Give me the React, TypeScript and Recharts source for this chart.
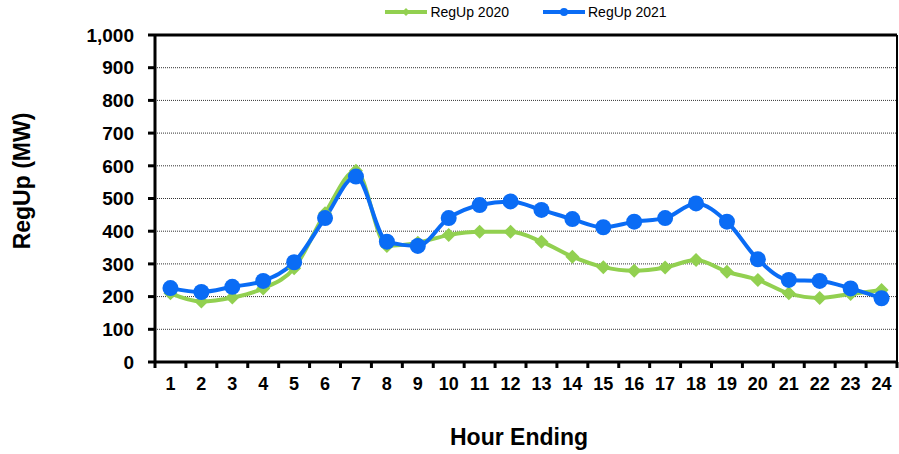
import React from "react";
import {
  LineChart,
  Line,
  XAxis,
  YAxis,
  CartesianGrid,
  ReferenceLine,
  Legend,
} from "recharts";

// hour ending 1..24
const hours = [1, 2, 3, 4, 5, 6, 7, 8, 9, 10, 11, 12, 13, 14, 15, 16, 17, 18, 19, 20, 21, 22, 23, 24];

const regUp2020 = [210, 185, 197, 225, 287, 455, 585, 355, 365, 388, 398, 398, 368, 322, 290, 279, 289, 312, 276, 251, 210, 196, 208, 220];
const regUp2021 = [226, 214, 230, 248, 305, 440, 567, 368, 355, 440, 480, 491, 465, 437, 412, 429, 440, 485, 429, 314, 251, 248, 225, 195];

const yTicks = [0, 100, 200, 300, 400, 500, 600, 700, 800, 900, 1000];

const GREEN = "#92D050";
const BLUE = "#0A6CF5";
const FONT = "'Liberation Sans', Arial, sans-serif";

const data = hours.map((h, i) => ({ hour: h, y2020: regUp2020[i], y2021: regUp2021[i] }));

// labels on whole hours, tick marks on the band edges
const xTicks = [0.5, ...hours.flatMap((h) => [h, h + 0.5])];

function XTick(props: any) {
  const { x, y, payload } = props;
  const v = payload.value;
  if (v % 1 !== 0) {
    return <line x1={x} x2={x} y1={y} y2={y + 6} stroke="#000" strokeWidth={3} />;
  }
  return (
    <text x={x} y={y + 28} textAnchor="middle" fontFamily={FONT} fontWeight="bold" fontSize={18} fill="#000">
      {v}
    </text>
  );
}

function Diamond(props: any) {
  const { cx, cy } = props;
  if (cx == null || cy == null) return null;
  const r = 7;
  return <path d={`M${cx},${cy - r}L${cx + r},${cy}L${cx},${cy + r}L${cx - r},${cy}Z`} fill={GREEN} />;
}

function LegendContent() {
  const items = [
    { name: "RegUp 2020", color: GREEN, shape: "diamond" },
    { name: "RegUp 2021", color: BLUE, shape: "circle" },
  ];
  return (
    <div style={{ display: "flex", justifyContent: "center", gap: 34, fontFamily: FONT, fontSize: 14 }}>
      {items.map((it) => (
        <div key={it.name} style={{ display: "flex", alignItems: "center" }}>
          <svg width={42} height={10} style={{ marginRight: 3 }}>
            <line x1={0} x2={42} y1={5} y2={5} stroke={it.color} strokeWidth={4} />
            {it.shape === "circle" ? (
              <circle cx={21} cy={5} r={4} fill={it.color} />
            ) : (
              <path d="M21,1L25,5L21,9L17,5Z" fill={it.color} />
            )}
          </svg>
          <span style={{ color: "#000" }}>{it.name}</span>
        </div>
      ))}
    </div>
  );
}

export default function App() {
  return (
    <div style={{ position: "absolute", left: 0, top: 0, width: 899, height: 454, background: "#fff" }}>
      <LineChart width={899} height={454} data={data} margin={{ top: 35, right: 2, bottom: 0, left: 0 }}>
        <CartesianGrid vertical={false} stroke="#333" strokeDasharray="1 1" />
        <XAxis
          dataKey="hour"
          type="number"
          domain={[0.5, 24.5]}
          ticks={xTicks}
          interval={0}
          height={92}
          tickSize={0}
          tickMargin={0}
          tickLine={false}
          axisLine={{ stroke: "#000", strokeWidth: 3 }}
          tick={<XTick />}
          label={{
            content: (p: any) => {
              const vb = p.viewBox;
              return (
                <text x={vb.x + vb.width / 2 - 7} y={vb.y + 83} textAnchor="middle" fontFamily={FONT} fontWeight="bold" fontSize={23} fill="#000">
                  Hour Ending
                </text>
              );
            },
          }}
        />
        <YAxis
          domain={[0, 1000]}
          ticks={yTicks}
          interval={0}
          width={155}
          tickSize={7}
          tickMargin={14}
          axisLine={{ stroke: "#000", strokeWidth: 3 }}
          tickLine={{ stroke: "#000", strokeWidth: 3 }}
          tick={{ fill: "#000", fontFamily: FONT, fontWeight: "bold", fontSize: 19 }}
          tickFormatter={(v: number) => v.toLocaleString("en-US")}
          label={{
            content: () => (
              <text x={22} y={181} transform="rotate(-90 22 181)" textAnchor="middle" dominantBaseline="central" fontFamily={FONT} fontWeight="bold" fontSize={23} fill="#000">
                RegUp (MW)
              </text>
            ),
          }}
        />
        <ReferenceLine y={1000} stroke="#000" strokeWidth={3} />
        <ReferenceLine x={24.5} stroke="#000" strokeWidth={2} />
        <Legend verticalAlign="middle" align="center" wrapperStyle={{ top: 4, left: 155, width: 742 }} content={<LegendContent />} />
        <Line
          dataKey="y2020"
          name="RegUp 2020"
          type="monotone"
          stroke={GREEN}
          strokeWidth={4}
          dot={<Diamond />}
          activeDot={false}
          isAnimationActive={false}
        />
        <Line
          dataKey="y2021"
          name="RegUp 2021"
          type="monotone"
          stroke={BLUE}
          strokeWidth={4}
          dot={{ r: 8, fill: BLUE, stroke: "none" }}
          activeDot={false}
          isAnimationActive={false}
        />
      </LineChart>
    </div>
  );
}
